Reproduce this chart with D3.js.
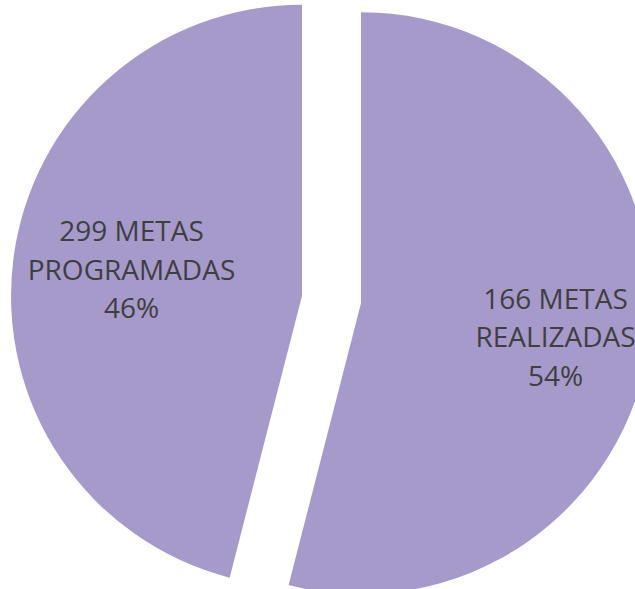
<!DOCTYPE html>
<html>
<head>
<meta charset="utf-8">
<script src="https://cdn.jsdelivr.net/npm/d3@7"></script>
<style>
  body { margin: 0; background: #fff; }
  svg { display: block; }
  .lbl { font-family: "Open Sans", sans-serif; font-size: 28px; fill: #3f3f3f; }
</style>
</head>
<body>
<svg width="635" height="589"></svg>
<script>
// slice data, clockwise from 12 o'clock
var nombres = ['REALIZADAS', 'PROGRAMADAS']
var metas = [166, 299]
var porcentajes = [54, 46]

const svg = d3.select('svg')
const cx = 331.5, cy = 299.5
const radio = 291
const separacion = 29.7
const radioTexto = 184
const interlinea = 38.5
// small nudge of each label box, like the original layout did
const ajusteTexto = [[12, 11], [12, -3]]

const datos = nombres.map((n, i) => ({ nombre: n, metas: metas[i], pct: porcentajes[i] }))

const pie = d3.pie()
  .sort(null)
  .value(d => d.pct)

const arco = d3.arc().innerRadius(0).outerRadius(radio)
const arcoTexto = d3.arc().innerRadius(radioTexto).outerRadius(radioTexto)

const chart = svg.append('g')
  .attr('transform', `translate(${cx}, ${cy})`)

const gajos = chart.selectAll('g.gajo')
  .data(pie(datos))
  .enter()
  .append('g')
  .attr('class', 'gajo')
  .attr('transform', function (d) {
    let a = (d.startAngle + d.endAngle) / 2
    return `translate(${Math.sin(a) * separacion}, ${-Math.cos(a) * separacion})`
  })

gajos.append('path')
  .attr('d', arco)
  .attr('fill', '#a69acb')

gajos.each(function (d, i) {
  let c = arcoTexto.centroid(d)
  let x = c[0] + ajusteTexto[i][0]
  let y = c[1] + ajusteTexto[i][1]
  let t = d3.select(this).append('text')
    .attr('class', 'lbl')
    .attr('text-anchor', 'middle')
  let lineas = [d.data.metas + ' METAS', d.data.nombre, d.data.pct + '%']
  lineas.forEach(function (l, j) {
    t.append('tspan')
      .attr('x', x)
      .attr('y', y + (j - 1) * interlinea + 10)
      .text(l)
  })
})
</script>
</body>
</html>
